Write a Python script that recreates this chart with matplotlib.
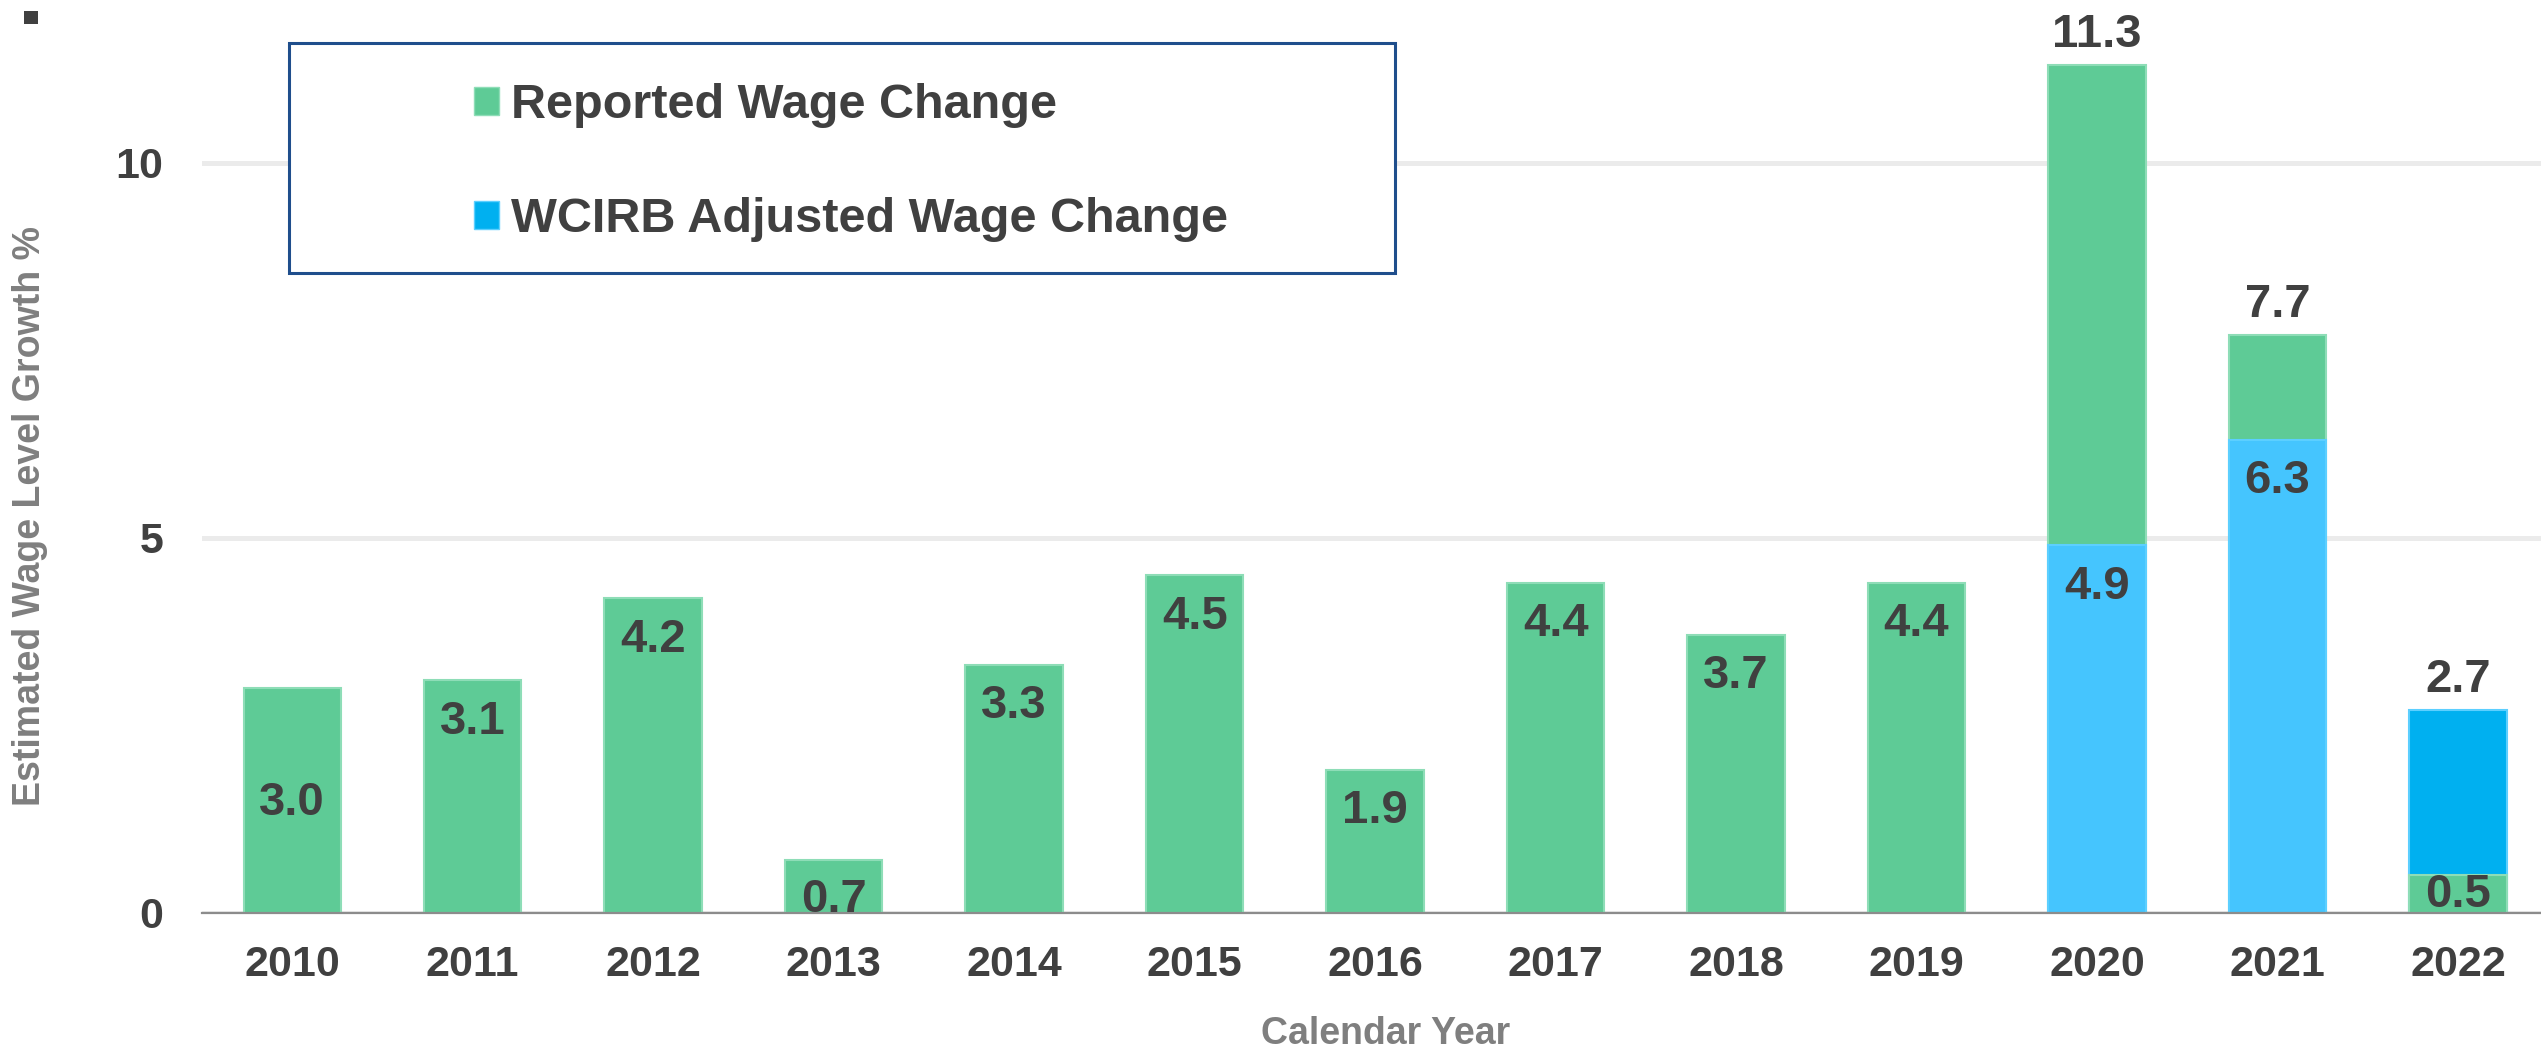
import numpy as np
import matplotlib
matplotlib.use("Agg")
import matplotlib.pyplot as plt
from matplotlib.patches import Patch, Rectangle

plt.rcParams["font.family"] = ["Liberation Sans", "DejaVu Sans"]
plt.rcParams["font.weight"] = "bold"

# data
years = ["2010", "2011", "2012", "2013", "2014", "2015", "2016",
         "2017", "2018", "2019", "2020", "2021", "2022"]
reported = [3.0, 3.1, 4.2, 0.7, 3.3, 4.5, 1.9, 4.4, 3.7, 4.4, 11.3, 7.7, 0.5]
adjusted = [np.nan] * 10 + [4.9, 6.3, 2.7]

# where the in-bar value labels sit (data units)
inside_label_y = [1.46, 2.55, 3.64, 0.17, 2.76, 3.95, 1.36, 3.85, 3.16, 3.85, 4.35, 5.76, 0.24]

GREEN = "#5ECB96"
GREEN_EDGE = "#8EDDB7"
BLUE = "#00B0F0"
BLUE_LIGHT = "#45C5FE"
BLUE_EDGE = "#5CCFFF"
TEXT = "#404040"
GREY = "#7F7F7F"
adjusted_colors = [BLUE_LIGHT] * 12 + [BLUE]

W, H = 2541, 1050
fig = plt.figure(figsize=(W / 100, H / 100), dpi=100)
ax = fig.add_axes([202 / W, 137 / H, 1 - 202 / W, 1 - 137 / H])

x = np.arange(len(years))
width = 0.54

rep_bars = ax.bar(x, reported, width, color=GREEN, edgecolor=GREEN_EDGE, linewidth=1.5)
adj_bars = ax.bar(x, adjusted, width, color=adjusted_colors, edgecolor=BLUE_EDGE, linewidth=1.5)

# the shorter bar of each pair goes in front
for i in range(len(years)):
    if np.isnan(adjusted[i]):
        continue
    if adjusted[i] < reported[i]:
        adj_bars[i].set_zorder(3)
        rep_bars[i].set_zorder(2)
    else:
        rep_bars[i].set_zorder(3)
        adj_bars[i].set_zorder(2)

for i in range(len(years)):
    if np.isnan(adjusted[i]):
        inner, top = reported[i], None
    else:
        inner = min(reported[i], adjusted[i])
        top = max(reported[i], adjusted[i])
    ax.text(x[i], inside_label_y[i], f"{inner:.1f}", ha="center", va="center",
            fontsize=34, fontweight="bold", color=TEXT, zorder=5)
    if top is not None:
        ax.annotate(f"{top:.1f}", (x[i], top), xytext=(0, 6), textcoords="offset points",
                    ha="center", va="bottom", fontsize=34, fontweight="bold", color=TEXT)

ax.set_xlim(-0.5, 12.46)
ax.set_ylim(0, 12.17)
ax.set_xticks(x)
ax.set_xticklabels(years)
ax.set_yticks([0, 5, 10])
ax.tick_params(axis="x", length=0, pad=23, labelsize=31, labelcolor=TEXT)
ax.tick_params(axis="y", length=0, pad=28, labelsize=31, labelcolor=TEXT)
for lbl in ax.get_xticklabels() + ax.get_yticklabels():
    lbl.set_fontweight("bold")

ax.set_axisbelow(True)
ax.yaxis.grid(True, color="#EBEBEB", linewidth=3.6)
for side in ["top", "right", "left"]:
    ax.spines[side].set_visible(False)
ax.spines["bottom"].set_color("#8C8C8C")
ax.spines["bottom"].set_linewidth(1.6)
ax.spines["bottom"].set_zorder(4)

fig.text(30 / W, 0.5086, "Estimated Wage Level Growth %", rotation=90, ha="center", va="center",
         fontsize=27, fontweight="bold", color=GREY)
fig.text(0.5453, 6 / H, "Calendar Year", ha="center", va="baseline",
         fontsize=27, fontweight="bold", color=GREY)

# legend box and entries
fig.add_artist(Rectangle((289 / W, 1 - 273 / H), 1106 / W, 230 / H, transform=fig.transFigure,
                         facecolor="white", edgecolor="#1F4E8C", linewidth=2.2, zorder=4))
handles = [Patch(facecolor=GREEN, edgecolor=GREEN_EDGE, label="Reported Wage Change"),
           Patch(facecolor=BLUE, edgecolor=BLUE_EDGE, label="WCIRB Adjusted Wage Change")]
leg = fig.legend(handles=handles, loc="upper left", bbox_to_anchor=(474 / W, 1 - 83 / H),
                 frameon=False, fontsize=35, handlelength=0.52, handleheight=0.52,
                 handletextpad=0.25, labelspacing=1.42, borderpad=0, borderaxespad=0)
leg.set_zorder(5)
for t in leg.get_texts():
    t.set_color(TEXT)
    t.set_fontweight("bold")

# small marker in the top-left corner
fig.add_artist(Rectangle((24 / W, 1 - 24 / H), 14 / W, 13 / H, transform=fig.transFigure,
                         facecolor=TEXT, edgecolor="none"))

fig.savefig("out.png", dpi=100)
